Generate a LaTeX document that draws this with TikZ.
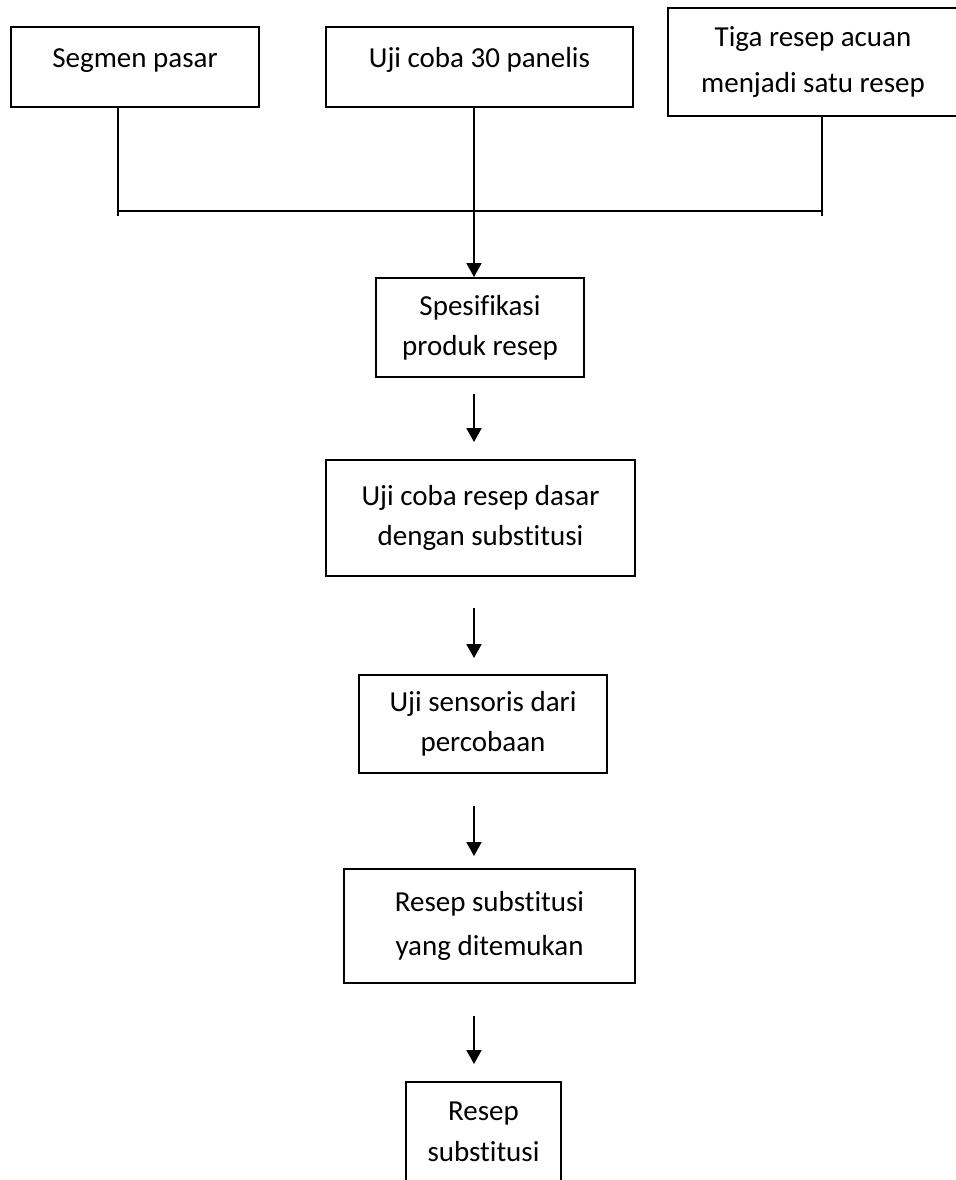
\documentclass[tikz,border=0pt]{standalone}
\usepackage{fontspec}
\setmainfont{Carlito}[RawFeature=-liga]
\usetikzlibrary{arrows.meta}
\definecolor{boxline}{HTML}{000000}
\tikzset{
  box/.style={rectangle, draw=boxline, line width=1.1pt, align=center, inner sep=0pt, font=\fontsize{16.5}{23}\selectfont},
  toptext/.style={text height=0.4cm, text depth=0.38cm},
  link/.style={draw=boxline, line width=0.8pt},
  bar/.style={draw=boxline, line width=1.1pt},
  flow/.style={-{Triangle[length=0.28cm, width=0.3cm]}, line width=1.1pt, draw=boxline}
}

\begin{document}
\begin{tikzpicture}
\useasboundingbox (0,0) rectangle (19.12,23.6);

\node[box, toptext, minimum width=4.96cm, minimum height=1.6cm] (market) at (2.70, 22.26) {Segmen pasar};
\node[box, toptext, minimum width=6.14cm, minimum height=1.6cm] (panel) at (9.59, 22.26) {Uji coba 30 panelis};
\node[box, minimum width=5.8cm, minimum height=2.16cm] (refs) at (16.26, 22.36) {Tiga resep acuan\\[0.1cm]menjadi satu resep};

\node[box, minimum width=4.16cm, minimum height=1.98cm] (spec) at (9.60, 17.05) {Spesifikasi\\produk resep};
\node[box, minimum width=6.18cm, minimum height=2.32cm] (trial) at (9.61, 13.24) {Uji coba resep dasar\\dengan substitusi};
\node[box, minimum width=4.96cm, minimum height=1.96cm] (sensory) at (9.66, 9.12) {Uji sensoris dari\\percobaan};
\node[box, minimum width=5.82cm, minimum height=2.28cm] (found) at (9.79, 5.08) {Resep substitusi\\[0.08cm]yang ditemukan};
\node[box, minimum width=3.10cm, minimum height=2.0cm] (final) at (9.67, 0.96) {Resep\\substitusi};

\coordinate (join) at (9.48, 19.38);
\coordinate (joinleft) at (2.36, 19.38);
\coordinate (joinright) at (16.44, 19.38);

\draw[link] (market.south -| joinleft) -- ([yshift=-0.1cm]joinleft);
\draw[link] (refs.south -| joinright) -- ([yshift=-0.1cm]joinright);
\draw[bar] (joinleft) -- (joinright);

\draw[flow] (panel.south -| join) -- (spec.north -| join);
\draw[flow, shorten <=0.32cm, shorten >=0.34cm] (spec.south -| join) -- (trial.north -| join);
\draw[flow, shorten <=0.62cm, shorten >=0.32cm] (trial.south -| join) -- (sensory.north -| join);
\draw[flow, shorten <=0.64cm, shorten >=0.24cm] (sensory.south -| join) -- (found.north -| join);
\draw[flow, shorten <=0.64cm, shorten >=0.34cm] (found.south -| join) -- (final.north -| join);

\end{tikzpicture}
\end{document}
